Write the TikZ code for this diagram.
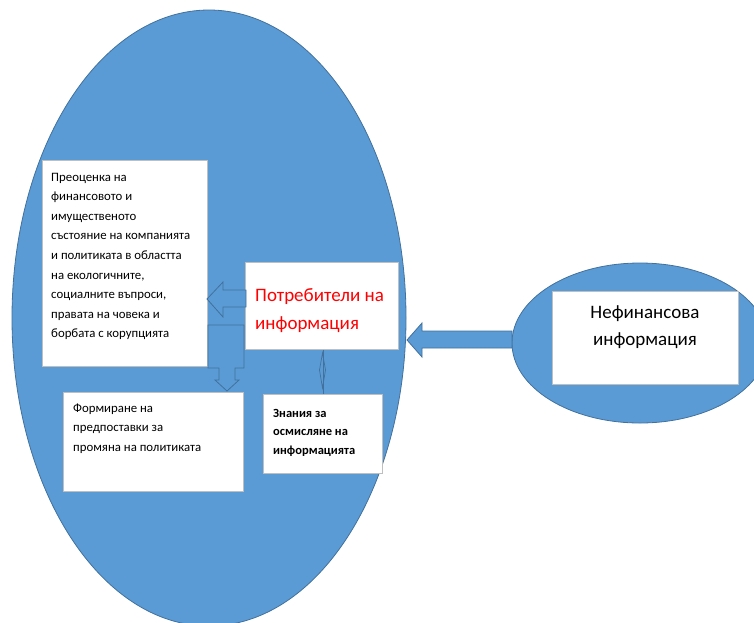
\documentclass[tikz,border=0pt]{standalone}
\usepackage{fontspec}
\setmainfont{Carlito}
\usetikzlibrary{shapes.geometric}
\definecolor{ellfill}{HTML}{5B9BD5}
\definecolor{ellline}{HTML}{41719C}
\definecolor{boxline}{HTML}{BFBFBF}
\begin{document}
\begin{tikzpicture}[x=1pt,y=-1pt,
  blob/.style={ellipse, fill=ellfill, draw=ellline, line width=0.8pt, inner sep=0pt},
  box/.style={draw=boxline, fill=white, line width=0.8pt, inner sep=0pt, anchor=north west},
  txt/.style={inner sep=0pt, anchor=base west},
  barrow/.style={fill=ellfill, draw=ellline, line width=0.8pt, line join=miter},
  conn/.style={draw=ellline, line width=0.7pt}]
\clip (0,0) rectangle (754,622);
\fill[white] (0,0) rectangle (754,622);
% ellipses
\node[blob, minimum width=394pt, minimum height=616pt] (big) at (209,318) {};
\node[blob, minimum width=256pt, minimum height=160pt] (small) at (640,343) {};
% boxes
\node[box, minimum width=165pt, minimum height=206pt] (b1) at (42,160) {};
\node[box, minimum width=153pt, minimum height=87pt] (b2) at (245,262) {};
\node[box, minimum width=180pt, minimum height=99pt] (b3) at (63,392) {};
\node[box, minimum width=119pt, minimum height=79pt] (b4) at (263,394) {};
\node[box, minimum width=186pt, minimum height=93pt] (b5) at (552,291) {};
% block arrows
\draw[barrow] (407,340) -- (422,323) -- (422,331) -- (512,331) -- (512,348) -- (422,348) -- (422,357) -- cycle;
\draw[barrow] (207,299) -- (223,282) -- (223,290) -- (246,290) -- (246,307) -- (223,307) -- (223,317) -- cycle;
\draw[barrow] (208,325) -- (244,325) -- (244,368) -- (235,368) -- (235,380) -- (239,380) -- (227,391) -- (215,380) -- (219,380) -- (219,368) -- (208,368) -- cycle;
% diamond connector
\draw[conn] (b4.north |- b2.south) -- (b4.north);
\draw[conn] (322.5,353) -- (325.5,370) -- (322.5,388) -- (319.5,370) -- cycle;
% texts
\node[txt] (t1) at (51,181) {\parbox[t]{160pt}{\fontsize{12.8}{19.6}\selectfont\raggedright
Преоценка на\\
финансовото и\\
имущественото\\
състояние на компанията\\
и политиката в областта\\
на екологичните,\\
социалните въпроси,\\
правата на човека и\\
борбата с корупцията}};
\node[txt] (t2) at (255,289) {\parbox[t]{140pt}{\fontsize{19}{28}\selectfont\raggedright\color{red}
Потребители на\\
информация}};
\node[txt] (t3) at (73,412) {\parbox[t]{165pt}{\fontsize{12.8}{19.5}\selectfont\raggedright
Формиране на\\
предпоставки за\\
промяна на политиката}};
\node[txt] (t4) at (273,417) {\parbox[t]{105pt}{\fontsize{12.5}{18.6}\selectfont\bfseries\raggedright
Знания за\\
осмисляне на\\
информацията}};
\node[inner sep=0pt, anchor=base] (t5) at (645,318) {\parbox[t]{180pt}{\fontsize{19}{27}\selectfont\centering
Нефинансова\\
информация}};
\end{tikzpicture}
\end{document}
